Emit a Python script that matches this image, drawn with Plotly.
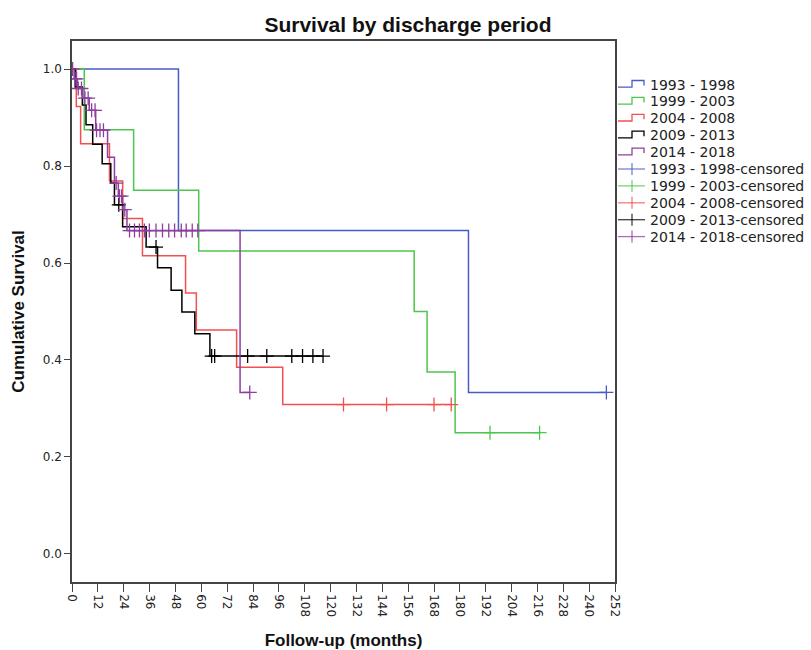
import plotly.graph_objects as go
import bisect

# ---------------- data (months, cumulative survival) ----------------
groups = ["1993 - 1998", "1999 - 2003", "2004 - 2008", "2009 - 2013", "2014 - 2018"]
colors = ["#4A5BC4", "#4CC64C", "#F25050", "#000000", "#8E3F9E"]

blue_t = [0, 49.4, 184.0]
blue_s = [1.0, 0.667, 0.333]
blue_c = [248.0]

green_t = [0, 5.7, 28.6, 58.8, 158.8, 164.8, 177.8]
green_s = [1.0, 0.875, 0.75, 0.625, 0.5, 0.375, 0.25]
green_c = [194.0, 217.0]

red_t = [0, 2.0, 4.0, 17.4, 23.5, 32.7, 52.7, 57.7, 76.4, 97.8]
red_s = [1.0, 0.923, 0.846, 0.769, 0.692, 0.615, 0.538, 0.462, 0.385, 0.308]
red_c = [126.0, 146.0, 168.0, 176.0]

black_t = [0, 1.5, 4.8, 6.5, 9.6, 14.0, 18.0, 19.7, 23.5, 34.4, 39.7, 46.0, 51.0, 57.0, 64.0]
black_s = [1.0, 0.963, 0.926, 0.885, 0.845, 0.805, 0.765, 0.72, 0.675, 0.633, 0.59, 0.544, 0.499, 0.454, 0.408]
black_c = [21.7, 39.0, 64.8, 66.2, 81.5, 90.4, 102.0, 107.0, 111.8, 116.5]

purple_t = [0, 1.0, 2.5, 5.0, 8.0, 11.0, 16.5, 19.7, 21.5, 23.5, 25.5, 78.0]
purple_s = [1.0, 0.98, 0.96, 0.94, 0.915, 0.874, 0.818, 0.765, 0.738, 0.71, 0.667, 0.333]
purple_c = [0.3, 1.4, 2.1, 2.9, 4.4, 6.0, 7.5, 9.1, 10.7, 11.4, 13.0, 14.6, 20.5, 22.0,
            23.0, 24.5, 26.7, 29.0, 31.3, 33.6, 35.9, 39.0, 42.0, 44.9, 47.6, 50.7,
            53.0, 55.8, 58.4, 82.5]

series_t = [blue_t, green_t, red_t, black_t, purple_t]
series_s = [blue_s, green_s, red_s, black_s, purple_s]
series_c = [blue_c, green_c, red_c, black_c, purple_c]

x_ticks = list(range(0, 253, 12))
y_ticks = [0.0, 0.2, 0.4, 0.6, 0.8, 1.0]

legend_labels = groups + [g + "-censored" for g in groups]

# ---------------- geometry ----------------
W, H = 811, 650
ML, MR, MT, MB = 72, 196, 41, 68
PW, PH = W - ML - MR, H - MT - MB


def px_x(px):
    return (px - ML) / PW


def px_y(py):
    return 1 - (py - MT) / PH


def surv_at(t_list, s_list, t):
    i = bisect.bisect_right(t_list, t) - 1
    return s_list[max(i, 0)]


fig = go.Figure()

# step curves
for name, col, t, s, c in zip(groups, colors, series_t, series_s, series_c):
    xs = list(t) + [max(c[-1], t[-1])]
    ys = list(s) + [s[-1]]
    fig.add_trace(go.Scatter(x=xs, y=ys, mode="lines", name=name, showlegend=False,
                             line=dict(color=col, width=1.5, shape="hv"),
                             hoverinfo="skip"))

# censored marks
for name, col, t, s, c in zip(groups, colors, series_t, series_s, series_c):
    fig.add_trace(go.Scatter(x=c, y=[surv_at(t, s, v) for v in c], mode="markers",
                             name=name + "-censored", showlegend=False,
                             marker=dict(symbol="cross-thin", size=10,
                                         line=dict(color=col, width=1.3), color=col)))

# ---------------- custom legend (compact, like the original) ----------------
shapes = []
annotations = []
leg_top, leg_gap = 84.5, 16.9
gx0, gx1, gmid = 618, 645, 632
for i, lab in enumerate(legend_labels):
    cy = leg_top + i * leg_gap
    col = colors[i % 5]
    if i < 5:
        path = "M {:.5f},{:.5f} L {:.5f},{:.5f} L {:.5f},{:.5f} L {:.5f},{:.5f} L {:.5f},{:.5f}".format(
            px_x(gx0), px_y(cy + 2.7), px_x(gmid), px_y(cy + 2.7), px_x(gmid), px_y(cy - 4),
            px_x(gx1 - 1), px_y(cy - 4), px_x(gx1 - 1), px_y(cy + 1))
        shapes.append(dict(type="path", xref="paper", yref="paper", path=path,
                           line=dict(color=col, width=1.3)))
    else:
        shapes.append(dict(type="line", xref="paper", yref="paper",
                           x0=px_x(gx0), x1=px_x(gx1), y0=px_y(cy), y1=px_y(cy),
                           line=dict(color=col, width=1.3), opacity=0.75))
        shapes.append(dict(type="line", xref="paper", yref="paper",
                           x0=px_x(gmid), x1=px_x(gmid), y0=px_y(cy - 6), y1=px_y(cy + 6),
                           line=dict(color=col, width=1.3), opacity=0.75))
    annotations.append(dict(text=lab, xref="paper", yref="paper", x=px_x(648), y=px_y(cy),
                            xanchor="left", yanchor="middle", showarrow=False,
                            font=dict(family="DejaVu Sans", size=14, color="#222")))

axis_common = dict(showline=True, linecolor="#444", linewidth=1.5, mirror=True,
                   showgrid=False, zeroline=False, ticks="outside", tickcolor="#444",
                   automargin=False,
                   tickfont=dict(family="DejaVu Sans", size=12, color="#222"))

fig.update_layout(
    width=W, height=H, autosize=False,
    margin=dict(l=ML, r=MR, t=MT, b=MB),
    plot_bgcolor="white", paper_bgcolor="white",
    title=dict(text="<b>Survival by discharge period</b>", x=0.503, xanchor="center",
               y=1 - 25 / 650, yanchor="middle",
               font=dict(family="Liberation Sans Narrow, Liberation Sans", size=21, color="#111")),
    xaxis=dict(range=[0, 252], tickvals=x_ticks, ticktext=[str(v) for v in x_ticks],
               tickangle=90, ticklen=8,
               title=dict(text="<b>Follow-up (months)</b>", standoff=20,
                          font=dict(family="Liberation Sans", size=17, color="#111")),
               **axis_common),
    yaxis=dict(range=[-0.058, 1.058], tickvals=y_ticks, tickformat=".1f", ticklen=6,
               title=dict(text="<b>Cumulative Survival</b>", standoff=14,
                          font=dict(family="Liberation Sans", size=17, color="#111")),
               **axis_common),
    showlegend=False,
    shapes=shapes,
    annotations=annotations,
)

fig.write_html("out.html")
